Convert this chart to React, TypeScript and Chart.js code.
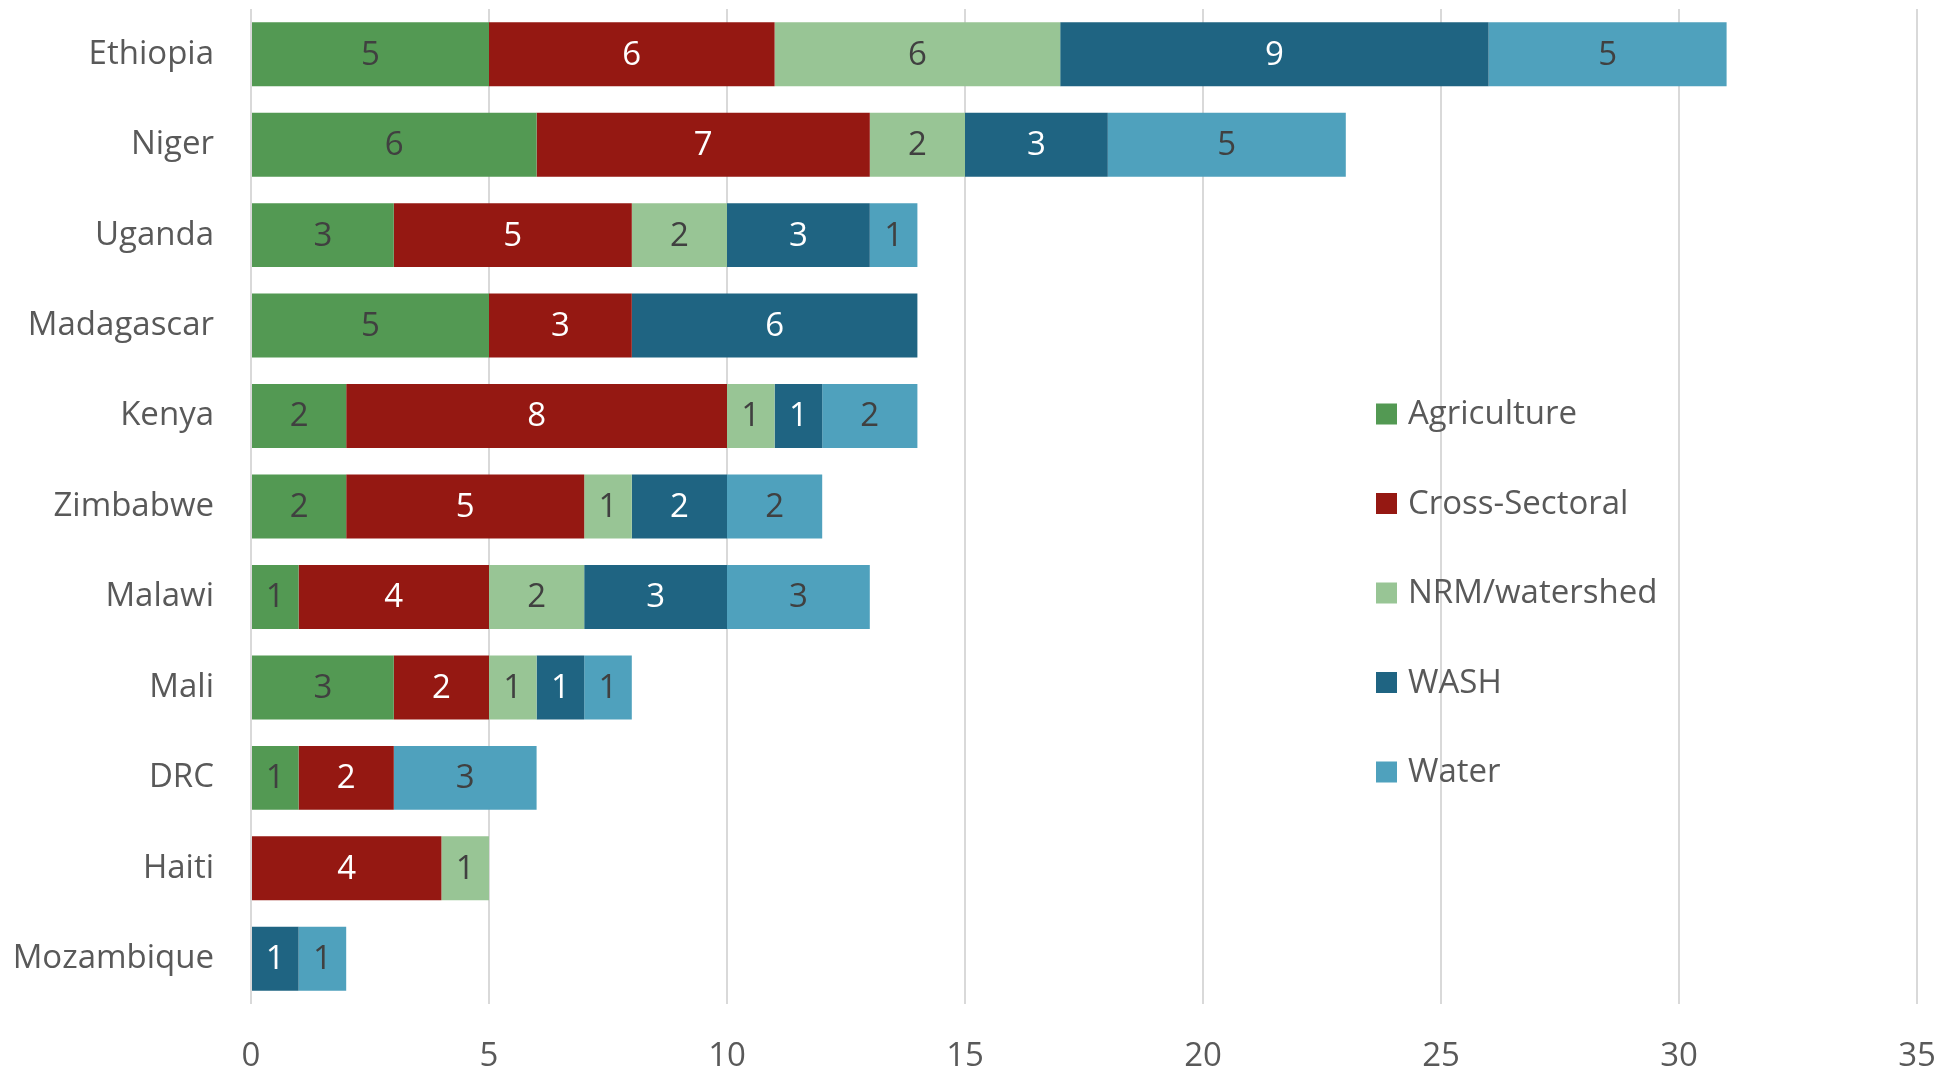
import React, { useEffect, useRef } from "react";
import { Chart, registerables } from "chart.js";

Chart.register(...registerables);

const countries = ["Ethiopia", "Niger", "Uganda", "Madagascar", "Kenya", "Zimbabwe", "Malawi", "Mali", "DRC", "Haiti", "Mozambique"];
const agriculture = [5, 6, 3, 5, 2, 2, 1, 3, 1, 0, 0];
const crossSectoral = [6, 7, 5, 3, 8, 5, 4, 2, 2, 4, 0];
const nrmWatershed = [6, 2, 2, 0, 1, 1, 2, 1, 0, 1, 0];
const wash = [9, 3, 3, 6, 1, 2, 3, 1, 0, 0, 1];
const water = [5, 5, 1, 0, 2, 2, 3, 1, 3, 0, 1];
const xTicks = [0, 5, 10, 15, 20, 25, 30, 35];

const FONT = "'Open Sans', 'Noto Sans', sans-serif";

const seriesDefs = [
  { label: "Agriculture", data: agriculture, color: "#539953", text: "#404040" },
  { label: "Cross-Sectoral", data: crossSectoral, color: "#951812", text: "#ffffff" },
  { label: "NRM/watershed", data: nrmWatershed, color: "#98C595", text: "#404040" },
  { label: "WASH", data: wash, color: "#1F6482", text: "#ffffff" },
  { label: "Water", data: water, color: "#4FA1BD", text: "#404040" },
];

const dataLabelPlugin = {
  id: "segmentLabels",
  afterDatasetsDraw(chart: any) {
    const ctx = chart.ctx;
    ctx.save();
    ctx.font = `33px ${FONT}`;
    ctx.textAlign = "center";
    ctx.textBaseline = "middle";
    chart.data.datasets.forEach((ds: any, di: number) => {
      const meta = chart.getDatasetMeta(di);
      meta.data.forEach((el: any, i: number) => {
        const v = ds.data[i];
        if (!v) return;
        const cx = (el.x + el.base) / 2;
        ctx.fillStyle = seriesDefs[di].text;
        ctx.fillText(String(v), cx, el.y + 1);
      });
    });
    ctx.restore();
  },
};

const legendPlugin = {
  id: "sideLegend",
  afterDraw(chart: any) {
    const ctx = chart.ctx;
    ctx.save();
    ctx.font = `33px ${FONT}`;
    ctx.textAlign = "left";
    ctx.textBaseline = "middle";
    const x0 = 1376;
    const y0 = 414;
    const step = 89.5;
    const box = 21;
    chart.data.datasets.forEach((ds: any, i: number) => {
      const cy = y0 + i * step;
      ctx.fillStyle = ds.backgroundColor;
      ctx.fillRect(x0, cy - box / 2, box, box);
      ctx.fillStyle = "#595959";
      ctx.fillText(ds.label, x0 + 32, cy + 1);
    });
    ctx.restore();
  },
};

export default function App() {
  const ref = useRef<HTMLCanvasElement | null>(null);

  useEffect(() => {
    if (!ref.current) return;
    const chart = new Chart(ref.current, {
      type: "bar",
      data: {
        labels: countries,
        datasets: seriesDefs.map((s) => ({
          label: s.label,
          data: s.data,
          backgroundColor: s.color,
          borderWidth: 0,
          categoryPercentage: 1,
          barPercentage: 0.707,
        })),
      },
      options: {
        indexAxis: "y",
        responsive: false,
        animation: false,
        maintainAspectRatio: false,
        layout: { padding: { left: 0, right: 27, top: 9, bottom: 0 } },
        plugins: {
          legend: { display: false },
          tooltip: { enabled: false },
        },
        scales: {
          x: {
            stacked: true,
            min: 0,
            max: 35,
            afterBuildTicks: (scale: any) => {
              scale.ticks = xTicks.map((v) => ({ value: v }));
            },
            afterFit: (scale: any) => {
              scale.height = 69;
              scale.paddingLeft = 0;
              scale.paddingRight = 0;
            },
            grid: { color: "#D9D9D9", lineWidth: 2, drawTicks: false },
            border: { display: false },
            ticks: {
              color: "#595959",
              font: { family: FONT, size: 33 },
              padding: 33,
              maxRotation: 0,
            },
          },
          y: {
            stacked: true,
            afterFit: (scale: any) => {
              scale.width = 251;
              scale.paddingTop = 0;
              scale.paddingBottom = 0;
            },
            grid: { display: false, drawTicks: false },
            border: { display: false },
            ticks: {
              color: "#595959",
              font: { family: FONT, size: 33 },
              padding: 37,
            },
          },
        },
      },
      plugins: [dataLabelPlugin, legendPlugin],
    });
    return () => chart.destroy();
  }, []);

  return (
    <div style={{ position: "fixed", left: 0, top: 0, width: 1944, height: 1073, background: "#fff" }}>
      <canvas ref={ref} width={1944} height={1073} style={{ display: "block" }} />
    </div>
  );
}
